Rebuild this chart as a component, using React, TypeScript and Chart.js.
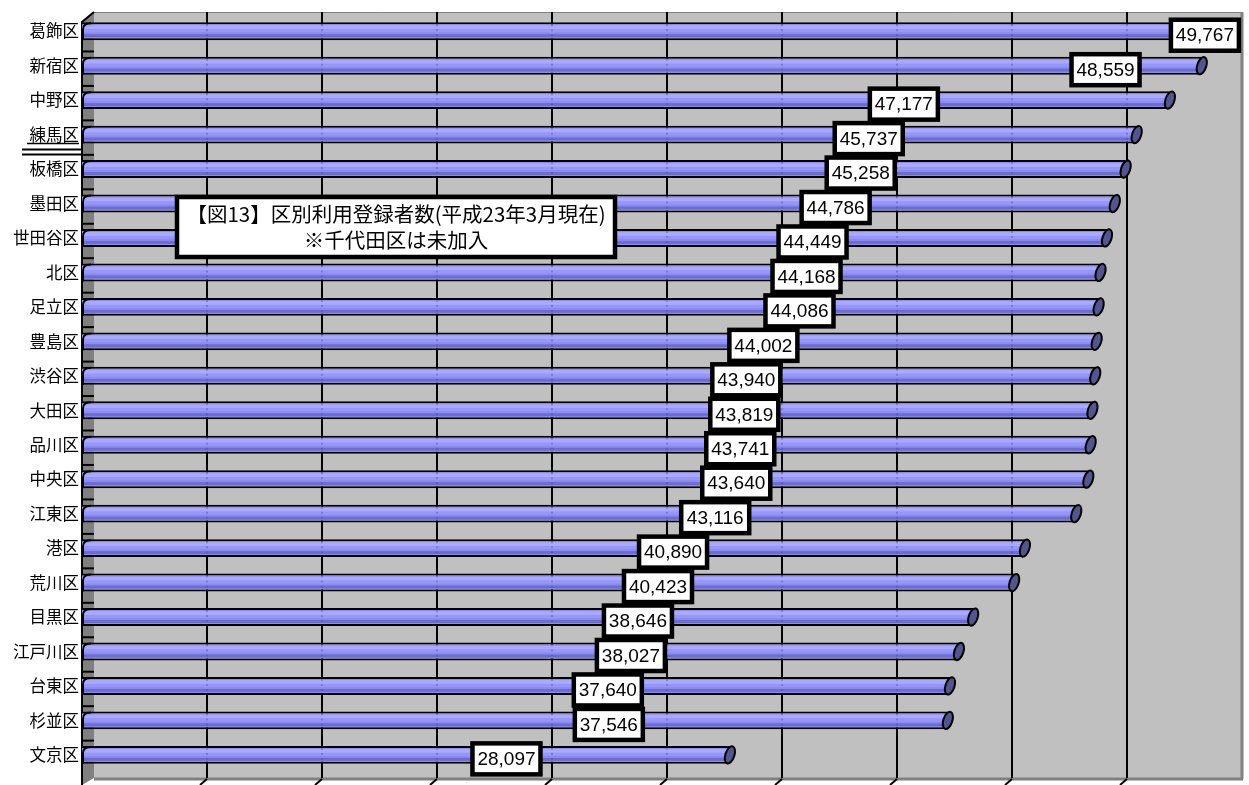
import React, { useEffect, useRef } from 'react';
import { Chart, registerables } from 'chart.js';

Chart.register(...registerables);

const categories = ['葛飾区', '新宿区', '中野区', '練馬区', '板橋区', '墨田区', '世田谷区', '北区', '足立区', '豊島区', '渋谷区', '大田区', '品川区', '中央区', '江東区', '港区', '荒川区', '目黒区', '江戸川区', '台東区', '杉並区', '文京区'];
const registrants = [49767, 48559, 47177, 45737, 45258, 44786, 44449, 44168, 44086, 44002, 43940, 43819, 43741, 43640, 43116, 40890, 40423, 38646, 38027, 37640, 37546, 28097];
// where each value label box sits along the value axis
const labelAnchor = [48695, 44386, 35640, 34117, 33769, 32681, 31680, 31419, 31114, 29548, 28808, 28721, 28546, 28372, 27459, 25631, 24978, 24108, 23803, 22802, 22846, 18407];
const gridValues = [5000, 10000, 15000, 20000, 25000, 30000, 35000, 40000, 45000];
const xMin = 0;
const xMax = 50000;
const titleLines = ['【図13】区別利用登録者数(平成23年3月現在)', '※千代田区は未加入'];
const underlinedCategory = '練馬区';

const DEPTH_X = 10;
const WALL_TOP = 12;
const FLOOR_Y = 778;

const scenePlugin = {
  id: 'scene',
  beforeDraw(chart: any) {
    const { ctx, scales } = chart;
    const xs = scales.x;
    const ys = scales.y;
    const x0 = xs.getPixelForValue(xMin);
    const xEnd = xs.getPixelForValue(xMax) + DEPTH_X - 4;
    ctx.save();
    ctx.fillStyle = '#ffffff';
    ctx.fillRect(0, 0, chart.width, chart.height);
    // back wall
    ctx.fillStyle = '#c0c0c0';
    ctx.fillRect(x0 + 12, WALL_TOP, xEnd - (x0 + 12), FLOOR_Y - WALL_TOP);
    // right edge
    ctx.strokeStyle = '#808080';
    ctx.lineWidth = 3;
    ctx.beginPath();
    ctx.moveTo(xEnd + 1, WALL_TOP);
    ctx.lineTo(xEnd + 1, FLOOR_Y + 1);
    ctx.stroke();
    // top edge
    ctx.lineWidth = 1;
    ctx.beginPath();
    ctx.moveTo(x0 + 12, WALL_TOP + 0.5);
    ctx.lineTo(xEnd, WALL_TOP + 0.5);
    ctx.stroke();
    // floor edge
    ctx.lineWidth = 3;
    ctx.beginPath();
    ctx.moveTo(x0 + 12, FLOOR_Y + 1);
    ctx.lineTo(xEnd + 2, FLOOR_Y + 1);
    ctx.stroke();
    // left wall
    ctx.fillStyle = '#808080';
    ctx.beginPath();
    ctx.moveTo(x0, WALL_TOP + 10);
    ctx.lineTo(x0 + 12, WALL_TOP);
    ctx.lineTo(x0 + 12, FLOOR_Y);
    ctx.lineTo(x0, chart.height);
    ctx.closePath();
    ctx.fill();
    ctx.strokeStyle = '#000';
    ctx.lineWidth = 2;
    ctx.beginPath();
    ctx.moveTo(x0, chart.height);
    ctx.lineTo(x0, WALL_TOP + 10);
    ctx.lineTo(x0 + 12, WALL_TOP);
    ctx.stroke();
    // wall category ticks
    for (let i = 0; i < categories.length - 1; i++) {
      const yb = (ys.getPixelForValue(i) + ys.getPixelForValue(i + 1)) / 2 + 3;
      ctx.beginPath();
      ctx.moveTo(x0, yb);
      ctx.lineTo(x0 + 12, yb);
      ctx.stroke();
    }
    // gridlines on back wall
    ctx.lineWidth = 2;
    gridValues.forEach((v) => {
      const gx = Math.round(xs.getPixelForValue(v) + DEPTH_X - v / 20000);
      ctx.beginPath();
      ctx.moveTo(gx, WALL_TOP);
      ctx.lineTo(gx, FLOOR_Y);
      ctx.stroke();
      ctx.beginPath();
      ctx.moveTo(gx, FLOOR_Y + 1);
      ctx.lineTo(gx - 7, chart.height);
      ctx.stroke();
    });
    ctx.restore();
  },
  afterDatasetsDraw(chart: any) {
    const { ctx, scales } = chart;
    const xs = scales.x;
    const meta = chart.getDatasetMeta(0);
    ctx.save();
    meta.data.forEach((el: any) => {
      const { x, y, base, height } = el.getProps(['x', 'y', 'base', 'height'], true);
      const top = y - height / 2;
      const bottom = y + height / 2;
      const w = x - base;
      ctx.fillStyle = 'rgba(172,172,255,0.9)';
      ctx.fillRect(base, top + 3, w, 4);
      ctx.fillStyle = 'rgba(152,152,252,0.9)';
      ctx.fillRect(base, top + 7, w, 3);
      ctx.fillStyle = 'rgba(108,108,204,0.95)';
      ctx.fillRect(base, bottom - 6, w, 3);
      // faint gridlines seen through bars
      ctx.strokeStyle = 'rgba(70,70,150,0.5)';
      ctx.lineWidth = 1.5;
      ctx.setLineDash([2, 3]);
      gridValues.forEach((v) => {
        const gx = Math.round(xs.getPixelForValue(v) + DEPTH_X - v / 20000);
        if (gx < x - 4) {
          ctx.beginPath();
          ctx.moveTo(gx, top + 2);
          ctx.lineTo(gx, bottom - 2);
          ctx.stroke();
        }
      });
      ctx.setLineDash([]);
      // left rounded cap
      ctx.strokeStyle = '#000';
      ctx.lineWidth = 2;
      ctx.beginPath();
      ctx.moveTo(base + 1, bottom);
      ctx.lineTo(base + 1, top + 7);
      ctx.quadraticCurveTo(base + 1, top + 1, base + 9, top + 1);
      ctx.stroke();
      // end cap
      ctx.fillStyle = '#54548e';
      ctx.beginPath();
      ctx.ellipse(x, y, 4.5, height / 2, 0.32, 0, Math.PI * 2);
      ctx.fill();
      ctx.stroke();
    });
    ctx.restore();
  },
  afterDraw(chart: any) {
    const { ctx, scales } = chart;
    const xs = scales.x;
    const ys = scales.y;
    const meta = chart.getDatasetMeta(0);
    ctx.save();
    // underline decoration for 練馬区
    const ui = categories.indexOf(underlinedCategory);
    if (ui >= 0) {
      const uy = ys.getPixelForValue(ui);
      ctx.strokeStyle = '#000';
      ctx.lineWidth = 1.5;
      ctx.beginPath();
      ctx.moveTo(27, uy + 9);
      ctx.lineTo(79, uy + 9);
      ctx.stroke();
      ctx.lineWidth = 2;
      ctx.beginPath();
      ctx.moveTo(22, uy + 15);
      ctx.lineTo(82, uy + 15);
      ctx.moveTo(22, uy + 20);
      ctx.lineTo(82, uy + 20);
      ctx.stroke();
    }
    // value labels
    ctx.font = '19px "Liberation Sans", Arial, sans-serif';
    ctx.textAlign = 'center';
    ctx.textBaseline = 'middle';
    meta.data.forEach((el: any, i: number) => {
      const cx = xs.getPixelForValue(labelAnchor[i]);
      const cy = el.y + 4;
      const bw = 68;
      const bh = 31;
      ctx.fillStyle = '#fff';
      ctx.fillRect(cx - bw / 2, cy - bh / 2, bw, bh);
      ctx.strokeStyle = '#000';
      ctx.lineWidth = 4.5;
      ctx.strokeRect(cx - bw / 2, cy - bh / 2, bw, bh);
      ctx.fillStyle = '#000';
      ctx.fillText(registrants[i].toLocaleString('en-US'), cx, cy + 1);
    });
    // title box
    ctx.fillStyle = '#fff';
    ctx.fillRect(177, 197, 438, 60);
    ctx.strokeStyle = '#000';
    ctx.lineWidth = 4.5;
    ctx.strokeRect(177, 197, 438, 60);
    ctx.fillStyle = '#000';
    ctx.font = '20.5px "Noto Sans CJK JP", sans-serif';
    ctx.fillText(titleLines[0], 396, 214);
    ctx.fillText(titleLines[1], 396, 240);
    ctx.restore();
  },
};

export default function App() {
  const canvasRef = useRef<HTMLCanvasElement | null>(null);

  useEffect(() => {
    document.body.style.margin = '0';
    const canvas = canvasRef.current;
    if (!canvas) return;
    const chart = new Chart(canvas, {
      type: 'bar',
      data: {
        labels: categories,
        datasets: [
          {
            data: registrants,
            backgroundColor: '#8c8cee',
            borderColor: '#000',
            borderWidth: 2,
            barPercentage: 0.52,
            categoryPercentage: 1,
          },
        ],
      },
      options: {
        indexAxis: 'y',
        responsive: false,
        animation: false,
        devicePixelRatio: 1,
        layout: { padding: { top: 14, right: 14, bottom: 0, left: 0 } },
        plugins: {
          legend: { display: false },
          tooltip: { enabled: false },
          title: { display: false },
        },
        scales: {
          x: {
            type: 'linear',
            min: xMin,
            max: xMax,
            display: false,
          },
          y: {
            type: 'category',
            grid: { display: false, drawTicks: false },
            border: { display: false },
            ticks: {
              color: '#000',
              padding: 3,
              font: { family: '"Noto Sans CJK JP", sans-serif', size: 16.5 },
            },
            afterFit: (s: any) => {
              s.width = 82;
            },
          },
        },
      },
      plugins: [scenePlugin],
    });
    return () => chart.destroy();
  }, []);

  return (
    <div style={{ position: 'absolute', left: 0, top: 0, width: 1249, height: 785, background: '#fff' }}>
      <canvas ref={canvasRef} width={1249} height={785} />
    </div>
  );
}
